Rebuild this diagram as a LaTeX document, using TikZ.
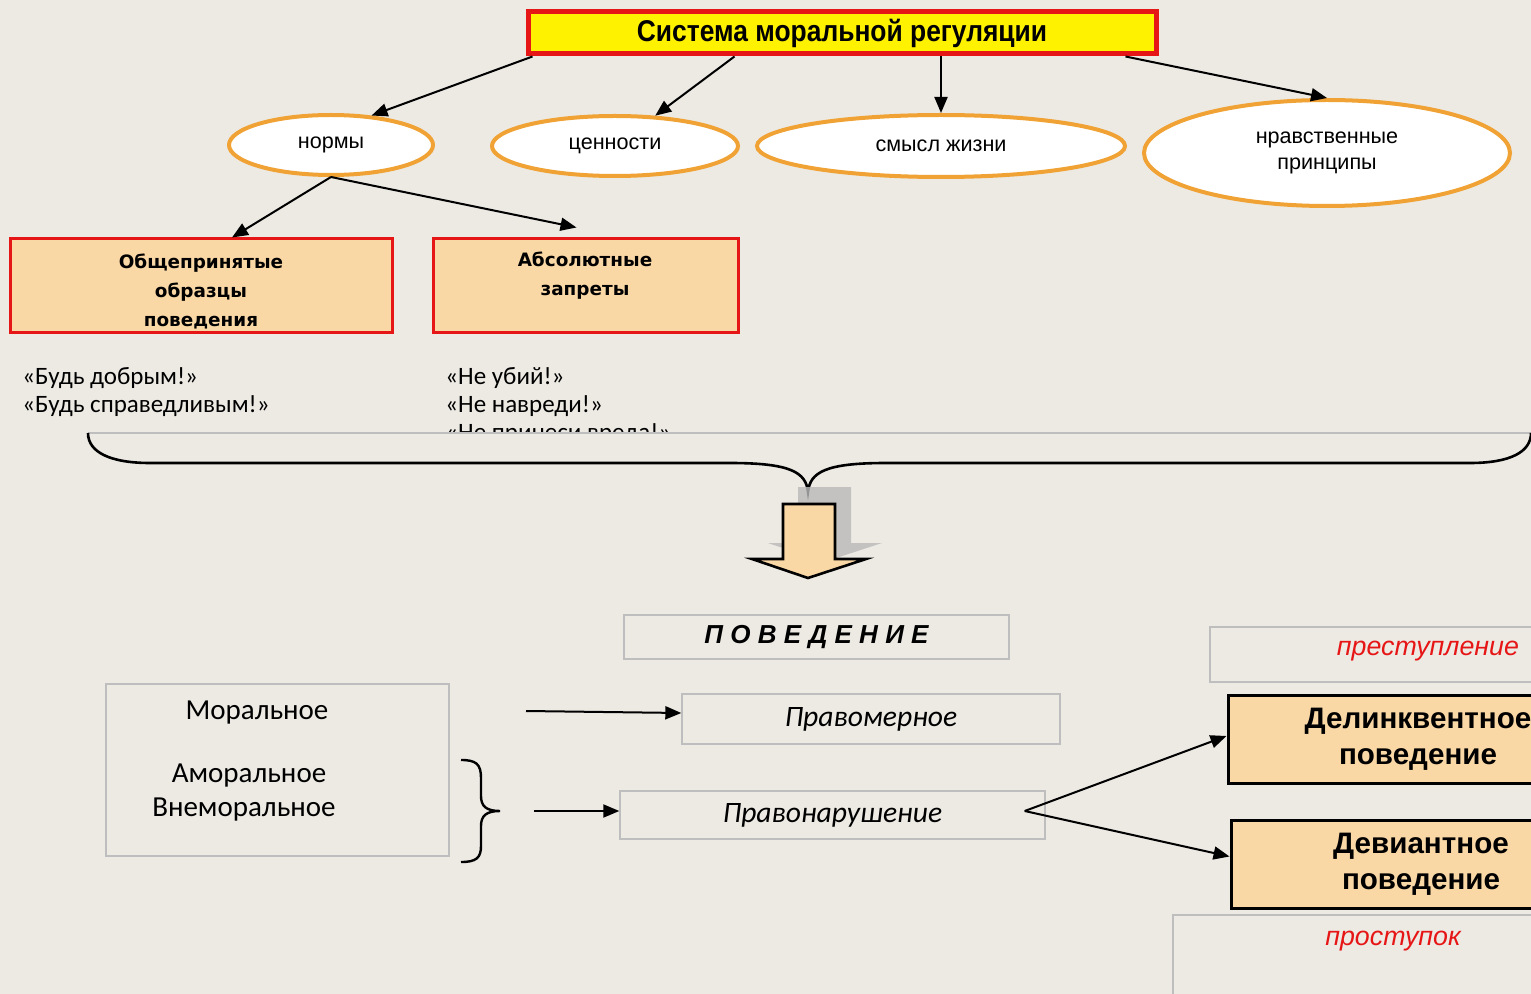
\documentclass[tikz,border=0pt]{standalone}
\usepackage{fontspec}
\setmainfont{Liberation Sans}
\newfontfamily\narrowfont{Liberation Sans}[FakeStretch=0.88]
\newfontfamily\dejavufont{DejaVu Sans}
\newfontfamily\calibrifont{Carlito}
\usetikzlibrary{shapes.geometric,arrows.meta,positioning,calc}
\definecolor{bgcol}{RGB}{237,234,228}
\definecolor{boxred}{RGB}{230,22,22}
\definecolor{ovalorange}{RGB}{240,162,52}
\definecolor{boxfill}{RGB}{250,216,166}
\definecolor{thingray}{RGB}{190,190,190}

\begin{document}
\begin{tikzpicture}[
    x=0.5pt, y=-0.5pt,
    link/.style={-{Triangle[length=8pt, width=6.5pt]}, line width=1pt},
    titleBox/.style={
        rectangle, draw=boxred, line width=2.5pt, fill=yellow, inner sep=0pt,
        minimum width=314pt, minimum height=21pt,
        font=\narrowfont\bfseries\fontsize{15}{18}\selectfont
    },
    valueOval/.style={
        ellipse, draw=ovalorange, line width=2pt, fill=white, inner sep=0pt,
        align=center, font=\fontsize{10.8}{13}\selectfont
    },
    normBox/.style={
        rectangle, draw=boxred, line width=1.5pt, fill=boxfill, inner sep=0pt,
        minimum height=47pt
    },
    normText/.style={inner sep=0pt, align=center, font=\dejavufont\bfseries\fontsize{9.2}{14.5}\selectfont},
    quoteText/.style={anchor=base west, inner sep=0pt, font=\calibrifont\fontsize{12.5}{14}\selectfont},
    plainBox/.style={rectangle, draw=thingray, line width=0.7pt, inner sep=0pt},
    calText/.style={inner sep=0pt, font=\calibrifont\fontsize{14.5}{17}\selectfont},
    kindBox/.style={
        rectangle, draw=black, line width=1.5pt, fill=boxfill, inner sep=0pt,
        minimum width=190pt, minimum height=44pt, align=center,
        font=\bfseries\fontsize{14.8}{18}\selectfont
    },
    redText/.style={inner sep=0pt, text=boxred, font=\itshape\fontsize{13.4}{15}\selectfont}
]

% Canvas
\clip (0,0) rectangle (1531,994);
\fill[bgcol] (0,0) rectangle (1531,994);

% Top of the scheme
\node[titleBox] (title) at (842,33) {Система моральной регуляции};

\node[valueOval, minimum width=102pt, minimum height=30pt] (norms) at (331,145) {нормы};
\node[valueOval, minimum width=123pt, minimum height=30pt] (values) at (615,146) {ценности};
\node[valueOval, minimum width=184pt, minimum height=31pt] (sense) at (941,146) {смысл жизни};
\node[valueOval, minimum width=183pt, minimum height=53pt] (principles) at (1327,153) {нравственные\\принципы};

\coordinate (tNorm) at ($(title.south west)+(7,0)$);
\coordinate (tVal) at ($(title.south west)+(209,0)$);
\coordinate (tPrin) at ($(title.south east)+(-33,0)$);
\draw[link] (tNorm) -- (norms.36);
\draw[link] (tVal) -- (values.37);
\draw[link] (title.south -| sense.north) -- (sense.north);
\draw[link] (tPrin) -- (principles.north);

% Kinds of norms
\node[normBox, minimum width=191pt] (common) at (201,286) {};
\node[normText] (commonText) at (201,291) {Общепринятые\\образцы\\поведения};
\node[normBox, minimum width=152.5pt] (bans) at (585.5,286) {};
\node[normText] (bansText) at (585,276) {Абсолютные\\запреты};

\coordinate (banEnd) at ($(bans.north)+(-9,-10)$);
\draw[link] (norms.south) -- ($(common.north)+(31,0)$);
\draw[link] (norms.south) -- (banEnd);

\node[quoteText] (kind1) at (22,385) {«Будь добрым!»};
\node[quoteText] (kind2) at (22,413) {«Будь справедливым!»};
\node[quoteText] (ban1) at (445,385) {«Не убий!»};
\node[quoteText] (ban2) at (445,413) {«Не навреди!»};
\node[quoteText] (ban3) at (445,441) {«Не принеси вреда!»};

% Cover and brace
\fill[bgcol] (88,433) rectangle (1531,600);
\draw[thingray, line width=0.6pt] (88,433) -- (1531,433);
\draw[line width=1.3pt]
    (88,433) .. controls (88,452) and (110,463) .. (150,463) -- (730,463)
    .. controls (790,463) and (806,472) .. (808,492)
    .. controls (810,472) and (826,463) .. (886,463) -- (1470,463)
    .. controls (1510,463) and (1531,452) .. (1531,433);

% Block arrow with shadow
\fill[gray!55, opacity=0.8] (798,487) -- (851,487) -- (851,543) -- (882,543) -- (824,562) -- (768,543) -- (798,543) -- cycle;
\draw[fill=boxfill, line width=1.3pt] (783,504) -- (835,504) -- (835,559) -- (866,559) -- (808,578) -- (752,559) -- (783,559) -- cycle;

% Behaviour
\node[plainBox, minimum width=192.5pt, minimum height=22pt,
      font=\bfseries\itshape\fontsize{13}{15}\selectfont\addfontfeature{LetterSpace=28}] (behaviour) at (816.5,637) {ПОВЕДЕНИЕ};

\node[plainBox, minimum width=171.5pt, minimum height=86pt] (moralBox) at (277.5,770) {};
\node[calText] (moral) at (257,713) {Моральное};
\node[calText] (amoral) at (249,776) {Аморальное};
\node[calText] (nonmoral) at (244,810) {Внеморальное};

\draw[line width=1.2pt] (461,760) .. controls (476,760) and (481,764) .. (481,778) -- (481,796)
    .. controls (481,806) and (486,811) .. (500,811)
    .. controls (486,811) and (481,816) .. (481,826) -- (481,846)
    .. controls (481,858) and (476,862) .. (461,862);

\node[plainBox, minimum width=189pt, minimum height=25pt,
      font=\calibrifont\itshape\fontsize{14.8}{17}\selectfont] (lawful) at (871,719) {Правомерное};
\node[plainBox, minimum width=212.5pt, minimum height=24pt,
      font=\calibrifont\itshape\fontsize{14.8}{17}\selectfont] (offence) at (832.5,815) {Правонарушение};

\coordinate (lawStart) at (526,711);
\coordinate (offStart) at (534,811);
\draw[link] (lawStart) -- ($(lawful.west)+(0,-6)$);
\draw[link] (offStart) -- ($(offence.west)+(0,-4)$);

% Kinds of offences
\node[plainBox, minimum width=218pt, minimum height=27.5pt] (crimeBox) at (1428,654.5) {};
\node[redText] (crime) at (1428,651) {преступление};

\node[kindBox] (delinq) at (1418,739) {Делинквентное\\поведение};
\node[kindBox] (deviant) at (1421,864.5) {Девиантное\\поведение};

\node[plainBox, minimum width=220pt, minimum height=60pt] (misdeedBox) at (1393,975) {};
\node[redText] (misdeed) at (1393,941) {проступок};

\coordinate (fork) at ($(offence.east)+(-21,-4)$);
\draw[link] (fork) -- ($(delinq.west)+(0,-3)$);
\draw[link] (fork) -- ($(deviant.west)+(0,-8)$);

\end{tikzpicture}
\end{document}
